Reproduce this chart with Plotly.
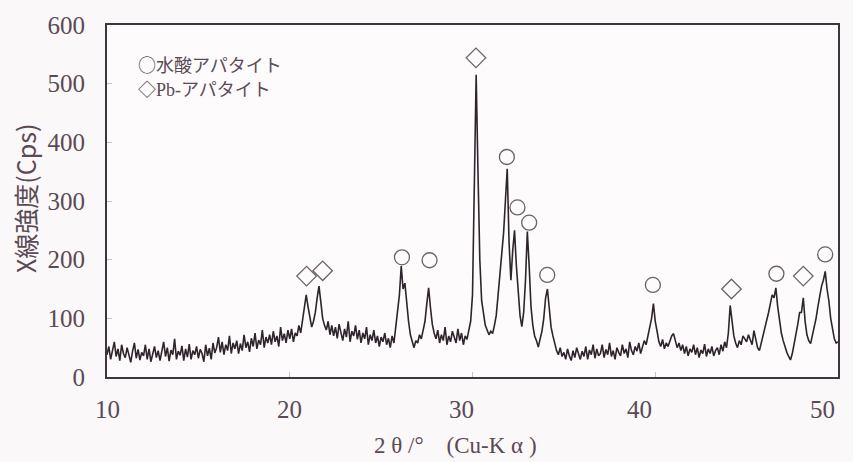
import plotly.graph_objects as go

# 2theta grid: 10.0 .. 50.0 in 0.1 deg steps
two_theta_start = 10.0
two_theta_step = 0.1
intensity_rows = [
    [38, 52, 30, 45, 60, 35, 48, 28, 55, 40],      # 10
    [33, 50, 38, 25, 44, 58, 32, 47, 29, 42],      # 11
    [36, 55, 30, 48, 26, 40, 52, 33, 45, 28],      # 12
    [42, 60, 35, 50, 27, 46, 38, 65, 30, 44],      # 13
    [37, 53, 28, 48, 34, 56, 30, 45, 38, 52],      # 14
    [32, 47, 40, 26, 55, 36, 49, 30, 58, 41],      # 15
    [50, 68, 42, 60, 38, 55, 45, 70, 40, 58],      # 16
    [48, 62, 40, 57, 45, 72, 50, 60, 43, 66],      # 17
    [52, 75, 48, 63, 55, 80, 50, 68, 58, 72],      # 18
    [55, 78, 60, 70, 52, 85, 62, 74, 58, 80],      # 19
    [65, 82, 60, 75, 70, 88, 75, 98, 118, 140],    # 20
    [120, 105, 85, 95, 110, 135, 155, 128, 100, 88],  # 21
    [80, 95, 72, 88, 70, 85, 66, 90, 75, 62],      # 22
    [82, 68, 95, 60, 78, 70, 88, 64, 80, 58],      # 23
    [75, 65, 85, 55, 72, 62, 80, 58, 70, 52],      # 24
    [68, 60, 75, 55, 66, 50, 70, 58, 85, 110],     # 25
    [140, 189, 150, 160, 120, 95, 72, 60, 50, 62], # 26
    [58, 72, 65, 80, 95, 125, 152, 118, 90, 75],   # 27
    [65, 80, 58, 72, 62, 85, 55, 70, 60, 78],      # 28
    [68, 58, 82, 62, 75, 55, 70, 64, 80, 95],      # 29
    [140, 300, 515, 350, 200, 130, 105, 88, 80, 72],  # 30
    [78, 74, 88, 105, 140, 175, 210, 245, 300, 355],  # 31
    [230, 165, 215, 250, 190, 140, 105, 86, 110, 165],  # 32
    [248, 190, 120, 88, 70, 62, 51, 65, 78, 100],  # 33
    [135, 150, 118, 85, 70, 55, 45, 38, 50, 35],   # 34
    [42, 30, 48, 36, 28, 45, 33, 50, 38, 30],      # 35
    [44, 35, 52, 30, 46, 38, 55, 32, 48, 36],      # 36
    [40, 55, 33, 47, 38, 58, 35, 45, 30, 50],      # 37
    [42, 36, 55, 40, 48, 33, 60, 45, 38, 52],      # 38
    [44, 58, 40, 50, 62, 55, 70, 85, 100, 125],    # 39
    [95, 78, 60, 52, 64, 48, 58, 52, 62, 70],      # 40
    [74, 62, 50, 58, 45, 55, 40, 52, 36, 48],      # 41
    [42, 55, 38, 50, 33, 46, 40, 56, 35, 48],      # 42
    [40, 52, 36, 45, 50, 38, 55, 44, 60, 50],      # 43
    [75, 122, 100, 70, 58, 50, 62, 55, 70, 65],    # 44
    [60, 72, 65, 55, 79, 62, 50, 45, 58, 70],      # 45
    [80, 95, 110, 125, 140, 135, 152, 120, 95, 75],  # 46
    [62, 50, 42, 35, 29, 40, 55, 70, 90, 110],     # 47
    [110, 135, 95, 72, 62, 57, 70, 85, 100, 120],  # 48
    [140, 155, 165, 180, 150, 130, 100, 80, 65, 58],  # 49
    [60],                                          # 50
]
intensity = [v for row in intensity_rows for v in row]
two_theta = [two_theta_start + i * two_theta_step for i in range(len(intensity))]

# peak markers
hap_x = [26.14, 27.65, 31.88, 32.46, 33.10, 34.09, 39.87, 46.63, 49.30]
hap_y = [204, 199, 375, 289, 263, 174, 157, 176, 209]
pb_x = [20.92, 21.80, 30.19, 44.17, 48.10]
pb_y = [172, 181, 544, 150, 172]

x_ticks = [10, 20, 30, 40, 50]
x_tick_labels = ["10", "20", "30", "40", "50"]
y_ticks = [0, 100, 200, 300, 400, 500, 600]
y_tick_labels = ["0", "100", "200", "300", "400", "500", "600"]

cjk = "Noto Sans CJK JP"
legend_hap = f'<span style="font-family:{cjk}">○水酸アパタイト</span>'
legend_pb = f'<span style="font-family:{cjk}">◇</span>Pb-<span style="font-family:{cjk}">アパタイト</span>'
x_title = "2 θ /°　(Cu-K α )"
y_title = "X線強度(Cps)"

text_color = "#5a4a55"
line_color = "#2e252c"
marker_color = "#6e6068"
serif = "Liberation Serif, Noto Sans CJK JP, serif"
sans = "Noto Sans CJK JP, sans-serif"

fig = go.Figure()
fig.add_trace(go.Scatter(x=two_theta, y=intensity, mode="lines",
                         line=dict(color=line_color, width=1.6), showlegend=False,
                         hoverinfo="skip"))
fig.add_trace(go.Scatter(x=hap_x, y=hap_y, mode="markers", showlegend=False,
                         marker=dict(symbol="circle-open", size=15,
                                     color=marker_color, line=dict(width=1.3))))
fig.add_trace(go.Scatter(x=pb_x, y=pb_y, mode="markers", showlegend=False,
                         marker=dict(symbol="diamond-open", size=15,
                                     color=marker_color, line=dict(width=1.3))))

fig.update_layout(
    width=853, height=462,
    margin=dict(l=107, r=15, t=22, b=85),
    paper_bgcolor="#fbf8f9", plot_bgcolor="#fdfbfc",
    font=dict(family=serif, color=text_color, size=22),
    showlegend=False,
)
fig.update_xaxes(range=[10, 50], tickvals=x_ticks, ticktext=x_tick_labels,
                 showline=True, mirror=True, linecolor="#3f3540", linewidth=2,
                 ticks="inside", ticklen=5, tickcolor="#c8c0c6",
                 showgrid=False, zeroline=False, showticklabels=False)
fig.update_yaxes(range=[0, 600], tickvals=y_ticks, ticktext=y_tick_labels,
                 showline=True, mirror=True, linecolor="#3f3540", linewidth=2,
                 ticks="inside", ticklen=5, tickcolor="#c8c0c6",
                 showgrid=False, zeroline=False,
                 tickfont=dict(family=serif, size=25, color=text_color),
                 ticklabelstandoff=15)

# x tick labels as text at the tick values (the scan places some slightly left of their ticks)
x_label_shift = [0, 0, -11, -16, -16]
for v, lab, sh in zip(x_ticks, x_tick_labels, x_label_shift):
    fig.add_annotation(xref="x", yref="paper", x=v, y=0, xshift=sh, yshift=-32,
                       text=lab, showarrow=False,
                       font=dict(family=serif, size=25, color=text_color),
                       xanchor="center", yanchor="middle")

fig.add_annotation(xref="paper", yref="paper", x=0, y=0.5, xshift=-82, yshift=2,
                   text=y_title, textangle=-90, showarrow=False,
                   font=dict(family=sans, size=25, color=text_color),
                   xanchor="center", yanchor="middle")
fig.add_annotation(xref="paper", yref="paper", x=0.5, y=0, xshift=-17, yshift=-68,
                   text=x_title, showarrow=False,
                   font=dict(family=serif, size=23, color=text_color),
                   xanchor="center", yanchor="middle")
fig.add_annotation(xref="paper", yref="paper", x=0, y=1, xshift=29, yshift=-39,
                   text=legend_hap, showarrow=False,
                   font=dict(family=serif, size=18, color=text_color),
                   xanchor="left", yanchor="middle")
fig.add_annotation(xref="paper", yref="paper", x=0, y=1, xshift=29, yshift=-63,
                   text=legend_pb, showarrow=False,
                   font=dict(family=serif, size=18, color=text_color),
                   xanchor="left", yanchor="middle")

# remove the page's default body margin so the 853x462 figure fills the window exactly
fig.write_html("out.html",
               config={"displayModeBar": False},
               post_script="document.body.style.margin='0';document.body.style.overflow='hidden';")
